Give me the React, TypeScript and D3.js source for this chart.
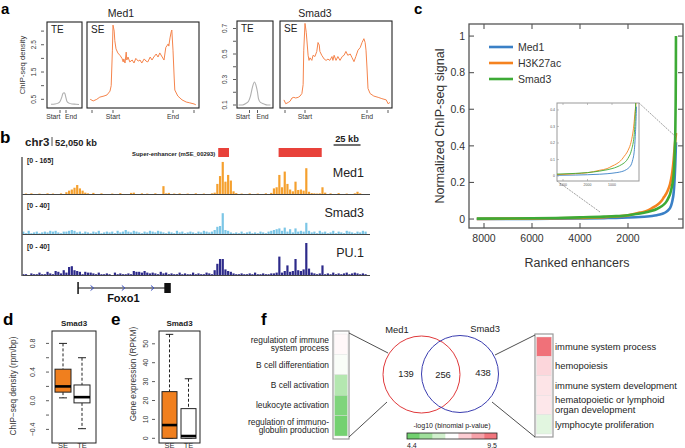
import React from "react";
import * as d3 from "d3";

const FONT = "'Liberation Sans', Arial, Helvetica, sans-serif";

// ---------------- Panel a : aggregate profiles (Start = 0, End = 100) ----------------
const med1SEProfile: [number, number][] = [
  [-38, 0.5], [-33, 0.44], [-27, 0.5], [-22, 0.58], [-15, 0.62], [-10, 0.66], [-5, 0.8], [-3, 1.0], [-1, 2.3],
  [0, 3.22], [2, 3.0], [3, 2.65], [5, 2.35], [8, 2.2], [12, 2.1], [15, 2.0], [17, 1.87], [18, 1.98], [20, 1.83],
  [22, 2.23], [23, 1.94], [25, 2.05], [28, 1.87], [32, 1.94], [35, 1.83], [38, 2.0], [42, 1.9], [45, 1.94],
  [48, 1.83], [52, 1.98], [55, 1.9], [58, 1.87], [62, 2.05], [65, 1.94], [68, 2.05], [72, 2.16], [75, 2.05],
  [78, 2.2], [82, 2.05], [85, 1.94], [88, 2.4], [92, 2.53], [93, 2.45], [95, 2.75], [97, 2.97], [98, 3.04],
  [100, 2.3], [102, 1.28], [103, 0.84], [108, 0.62], [115, 0.48], [122, 0.4], [128, 0.37], [135, 0.33], [138, 0.3],
];
const med1TEProfile: [number, number][] = [
  [-150, 0.32], [-83, 0.33], [-33, 0.36], [0, 0.42], [33, 0.6], [50, 0.72], [67, 0.74], [83, 0.7], [100, 0.55],
  [117, 0.42], [150, 0.36], [200, 0.33], [267, 0.32], [317, 0.31],
];
const smad3SEProfile: [number, number][] = [
  [-34, 0.14], [-31, 0.11], [-27, 0.12], [-24, 0.13], [-21, 0.155], [-18, 0.16], [-15, 0.155], [-11, 0.16],
  [-8, 0.17], [-5, 0.19], [-3, 0.26], [-2, 0.53], [0, 0.74], [2, 0.67], [3, 0.61], [5, 0.49], [6.5, 0.45],
  [8, 0.47], [11, 0.45], [13, 0.49], [16, 0.48], [19, 0.52], [21, 0.59], [23, 0.57], [24, 0.52], [27, 0.49],
  [31, 0.46], [34, 0.45], [37, 0.46], [40, 0.45], [43.5, 0.48], [45, 0.45], [47, 0.49], [50, 0.45], [53, 0.48],
  [56.5, 0.45], [60, 0.48], [63, 0.49], [66, 0.52], [69, 0.49], [73, 0.5], [76, 0.47], [79, 0.44], [82, 0.48],
  [85.5, 0.53], [89, 0.55], [92, 0.59], [95, 0.62], [97, 0.59], [98.4, 0.53], [100, 0.39], [101.6, 0.23],
  [105, 0.19], [111, 0.17], [118, 0.16], [124, 0.15], [131, 0.14], [134, 0.11], [137, 0.12],
];
const smad3TEProfile: [number, number][] = [
  [-137, 0.1], [-87, 0.1], [-50, 0.11], [-12, 0.13], [12, 0.17], [37, 0.24], [62, 0.28], [87, 0.24], [100, 0.2],
  [112, 0.15], [137, 0.12], [175, 0.11], [225, 0.1], [262, 0.1],
];
const med1DensityTicks = [0.5, 1, 1.5, 2, 2.5, 3];
const med1DensityLabels = [0.5, 1.5, 2.5];
const smad3DensityTicks = [0.1, 0.2, 0.3, 0.4, 0.5, 0.6, 0.7];
const smad3DensityLabels = [0.1, 0.3, 0.5, 0.7];

// ---------------- Panel b : genome browser tracks (2.5 kb bins) ----------------
const BIN_KB = 2.5;
const med1Track = [
  0, 2, 0, 3, 0, 0, 2, 0, 0, 3, 0, 2, 0, 0, 3, 0,
  8, 15, 20, 28, 40, 25, 15, 6,
  3, 0, 5, 0, 0, 3, 0, 0,
  0, 2, 0, 0, 4, 0, 0, 0, 5, 6, 0, 0, 3, 0, 2, 0,
  0, 3, 0, 0, 35, 3, 5, 0,
  2, 0, 3, 0, 0, 2, 0, 0, 3, 0, 0, 2, 0, 0, 3, 6,
  45, 80, 143, 55, 85, 60, 12, 4,
  0, 2, 0, 0, 3, 0, 0, 2, 0, 0, 3, 0, 5,
  25, 30, 85, 30, 100, 45, 20, 12,
  55, 18, 20, 15, 115, 10,
  4, 3, 2, 3, 30,
  6, 0, 3, 0, 0, 4, 0, 0, 2, 0, 0, 3, 10, 3, 0, 0,
];
const smad3Track = [
  3, 1, 4, 1, 2, 3, 1, 2, 3, 2, 4, 3, 4, 2, 1, 3,
  3, 4, 5, 4, 2, 3, 1, 3, 2, 1, 3, 2, 4, 1, 2, 3,
  2, 3, 1, 4, 2, 3, 5, 3, 2, 4, 3, 2, 1, 3, 2, 4,
  3, 2, 4, 3, 2, 1, 3, 2, 1, 4, 2, 3, 1, 2, 3, 2,
  1, 3, 2, 4, 3, 2, 3, 5, 9, 10, 26, 5, 4, 2, 1, 2,
  1, 3, 1, 2, 3, 1, 2, 1, 3, 2, 1, 3, 4, 5, 6, 7,
  4, 8, 3, 6, 2, 7, 3, 4, 3, 14, 4, 2, 3, 1, 4, 2,
  3, 1, 2, 4, 1, 3, 2, 1, 4, 3, 2, 1, 3, 2, 4, 3,
];
const pu1Track = [
  1, 1, 0, 2, 1, 1, 3, 1, 1, 4, 2, 1, 5, 4, 2, 6,
  3, 10, 11, 6, 5, 4, 1, 4, 3, 3, 2, 1, 3, 1, 1, 2,
  1, 0, 3, 1, 2, 1, 1, 2, 1, 5, 4, 4, 3, 5, 3, 2,
  3, 2, 1, 4, 2, 3, 1, 2, 1, 1, 3, 1, 2, 1, 1, 3,
  1, 2, 1, 1, 3, 2, 1, 6, 14, 20, 20, 7, 5, 4, 2, 1,
  1, 2, 1, 1, 2, 1, 3, 1, 1, 2, 1, 1, 2, 2, 3, 23,
  3, 5, 12, 4, 5, 20, 6, 5, 7, 40, 8, 3, 2, 1, 2, 12,
  1, 2, 1, 3, 1, 2, 1, 2, 3, 1, 2, 3, 2, 1, 2, 1,
];
const trackNames = ["Med1", "Smad3", "PU.1"];
const trackRanges = ["[0 - 165]", "[0 - 40]", "[0 - 40]"];
const trackMax = [165, 40, 40];
const trackColors = ["#F5A02E", "#7CC6E6", "#2D2A8A"];
const superEnhancersKb: [number, number][] = [[182, 192], [238, 278]];
const foxo1Kb: [number, number] = [52, 136];
const foxo1ExonKb: [number, number] = [132, 138];
const foxo1ArrowsKb = [65, 94, 121];
const scaleBarKb: [number, number] = [289, 314];

// ---------------- Panel c : ranked enhancer curves ----------------
const ranks = [8300, 7000, 6000, 5000, 4000, 3000, 2500, 2000, 1500, 1200, 1000, 800, 600, 500, 400, 300, 250, 200, 150, 100, 70, 50, 30, 15, 5, 1];
const med1Curve = [0.0, 0.001, 0.001, 0.002, 0.003, 0.005, 0.006, 0.008, 0.011, 0.014, 0.017, 0.021, 0.027, 0.032, 0.04, 0.052, 0.06, 0.075, 0.1, 0.14, 0.19, 0.24, 0.3, 0.36, 0.4, 0.42];
const h3k27acCurve = [0.001, 0.002, 0.003, 0.004, 0.006, 0.01, 0.014, 0.02, 0.035, 0.045, 0.06, 0.075, 0.1, 0.12, 0.14, 0.17, 0.19, 0.22, 0.26, 0.32, 0.37, 0.4, 0.43, 0.45, 0.46, 0.47];
const smad3Curve = [0.002, 0.003, 0.004, 0.006, 0.009, 0.013, 0.016, 0.021, 0.03, 0.038, 0.045, 0.055, 0.07, 0.08, 0.095, 0.12, 0.135, 0.16, 0.19, 0.24, 0.3, 0.37, 0.47, 0.62, 0.82, 1.0];
const curveNames = ["Med1", "H3K27ac", "Smad3"];
const curveColors = ["#3A80C6", "#F5821F", "#3DAA36"];
const rankTicks = [8000, 6000, 4000, 2000];
const signalTicks = [0, 0.2, 0.4, 0.6, 0.8, 1];
const insetRankTicks = [3000, 2000, 1000];
const insetSignalTicks = [0, 0.1, 0.2, 0.3, 0.4];

// ---------------- Panels d, e : boxplots ----------------
const boxGroups = ["SE", "TE"];
const densityStats = [
  { lo: 0.04, q1: 0.12, med: 0.2, q3: 0.44, hi: 0.8 },
  { lo: -0.39, q1: -0.03, med: 0.05, q3: 0.22, hi: 0.6 },
];
const densityTicks = [-0.4, -0.2, 0, 0.2, 0.4, 0.6, 0.8];
const densityLabels = [-0.4, 0, 0.4, 0.8];
const expressionStats = [
  { lo: 0, q1: 0, med: 7, q3: 24.7, hi: 55 },
  { lo: 0, q1: 0, med: 1.2, q3: 15.7, hi: 31.5 },
];
const expressionTicks = [0, 10, 20, 30, 40, 50];

// ---------------- Panel f : GO terms and Venn ----------------
const med1Terms = [
  ["regulation of immune", "system process"],
  ["B cell differentiation"],
  ["B cell activation"],
  ["leukocyte activation"],
  ["regulation of immuno-", "globulin production"],
];
const med1TermScores = [7.05, 6.85, 5.8, 5.0, 4.8];
const smad3Terms = [
  ["immune system process"],
  ["hemopoiesis"],
  ["immune system development"],
  ["hematopoietic or lymphoid", "organ development"],
  ["lymphocyte proliferation"],
];
const smad3TermScores = [9.2, 7.55, 7.35, 7.3, 6.5];
const vennCounts = [139, 256, 438];
const vennNames = ["Med1", "Smad3"];
const scoreRange: [number, number] = [4.4, 9.5];
const scoreColorStops = ["#5CC95A", "#8ED98A", "#C9EEC5", "#FFFFFF", "#FBC5CC", "#F4939B", "#EE5E67"];

// =====================================================================

type Pt = [number, number];

function ProfilePanel(p: {
  title: string; titleX: number;
  teBox: [number, number]; seBox: [number, number]; boxY: [number, number];
  teMarks: [number, number]; seMarks: [number, number]; seOuter: [number, number];
  teData: Pt[]; seData: Pt[];
  yDomain: [number, number]; yRange: [number, number];
  ticks: number[]; labeled: number[];
  tickX: number; labelX: number; yLabel?: string;
}) {
  const y = d3.scaleLinear().domain(p.yDomain).range(p.yRange);
  const xTE = d3.scaleLinear().domain([0, 100]).range(p.teMarks);
  const xSE = d3.scaleLinear().domain([0, 100]).range(p.seMarks);
  const lineTE = d3.line<Pt>().x(d => xTE(d[0])).y(d => y(d[1])).curve(d3.curveMonotoneX);
  const lineSE = d3.line<Pt>().x(d => xSE(d[0])).y(d => y(d[1]));
  const [y0, y1] = p.boxY;
  const tickY = y1 + 2;
  return (
    <g>
      <text x={p.titleX} y={17} fontSize={10.5} textAnchor="middle" fill="#222">{p.title}</text>
      <rect x={p.teBox[0]} y={y0} width={p.teBox[1] - p.teBox[0]} height={y1 - y0} fill="none" stroke="#222" strokeWidth={1.1} />
      <rect x={p.seBox[0]} y={y0} width={p.seBox[1] - p.seBox[0]} height={y1 - y0} fill="none" stroke="#222" strokeWidth={1.1} />
      <text x={p.teBox[0] + 4} y={y0 + 11} fontSize={10} fill="#222">TE</text>
      <text x={p.seBox[0] + 4} y={y0 + 11} fontSize={10} fill="#222">SE</text>
      <path d={lineTE(p.teData) || ""} fill="none" stroke="#AFAFAF" strokeWidth={1.1} />
      <path d={lineSE(p.seData) || ""} fill="none" stroke="#F5844C" strokeWidth={1} />
      {p.ticks.map(t => (
        <line key={t} x1={p.tickX - 3} x2={p.tickX} y1={y(t)} y2={y(t)} stroke="#333" strokeWidth={0.8} />
      ))}
      {p.labeled.map(t => (
        <text key={t} x={p.labelX} y={y(t)} fontSize={6.5} fill="#333" textAnchor="middle"
          transform={`rotate(-90 ${p.labelX} ${y(t)})`}>{t}</text>
      ))}
      {p.yLabel && (
        <text x={25} y={65} fontSize={7.7} fill="#333" textAnchor="middle" transform="rotate(-90 25 65)">{p.yLabel}</text>
      )}
      {[...p.teMarks, ...p.seMarks, ...p.seOuter].map((t, i) => (
        <line key={i} x1={t} x2={t} y1={tickY} y2={tickY + 3} stroke="#333" strokeWidth={0.8} />
      ))}
      <text x={p.teMarks[0] + 0.5} y={119} fontSize={6.8} fill="#333" textAnchor="end">Start</text>
      <text x={p.teMarks[1] - 1} y={119} fontSize={6.8} fill="#333">End</text>
      <text x={p.seMarks[0]} y={119} fontSize={6.8} fill="#333" textAnchor="middle">Start</text>
      <text x={p.seMarks[1]} y={119} fontSize={6.8} fill="#333" textAnchor="middle">End</text>
    </g>
  );
}

function PanelA() {
  return (
    <g>
      <text x={1} y={14} fontSize={15} fontWeight="bold">a</text>
      <ProfilePanel title="Med1" titleX={121}
        teBox={[47, 82]} seBox={[87, 199]} boxY={[22, 108]}
        teMarks={[60, 66]} seMarks={[113, 173]} seOuter={[92, 194]}
        teData={med1TEProfile} seData={med1SEProfile}
        yDomain={[0.5, 3]} yRange={[99.3, 31.1]}
        ticks={med1DensityTicks} labeled={med1DensityLabels}
        tickX={44} labelX={36} yLabel="ChIP-seq density" />
      <ProfilePanel title="Smad3" titleX={315}
        teBox={[237, 273]} seBox={[280, 392]} boxY={[21, 108]}
        teMarks={[249.5, 257.5]} seMarks={[305, 367]} seOuter={[285, 388]}
        teData={smad3TEProfile} seData={smad3SEProfile}
        yDomain={[0.1, 0.7]} yRange={[105, 28.5]}
        ticks={smad3DensityTicks} labeled={smad3DensityLabels}
        tickX={236} labelX={227} />
    </g>
  );
}

function PanelB() {
  const nBins = med1Track.length;
  const x = d3.scaleLinear().domain([0, nBins * BIN_KB]).range([22, 367]);
  const bw = x(BIN_KB) - x(0);
  const tracks = [med1Track, smad3Track, pu1Track];
  const tops = [157, 202, 243];
  const bases = [194, 234, 275];
  const labelY = [177, 217, 257];
  return (
    <g>
      <text x={0} y={143} fontSize={17} fontWeight="bold">b</text>
      <text x={25} y={146} fontSize={11.5} fontWeight="bold" fill="#222">chr3</text>
      <line x1={52} x2={52} y1={137} y2={146} stroke="#222" strokeWidth={0.8} />
      <text x={55} y={146} fontSize={9.3} fontWeight="bold" fill="#222">52,050 kb</text>
      <text x={(x(scaleBarKb[0]) + x(scaleBarKb[1])) / 2} y={142} fontSize={9.3} fontWeight="bold" textAnchor="middle" fill="#222">25 kb</text>
      <line x1={x(scaleBarKb[0])} x2={x(scaleBarKb[1])} y1={145} y2={145} stroke="#222" strokeWidth={1.3} />
      <text x={x(superEnhancersKb[0][0]) - 3} y={156} fontSize={5.9} fontWeight="bold" textAnchor="end" fill="#222">Super-enhancer (mSE_00293)</text>
      {superEnhancersKb.map((s, i) => (
        <rect key={i} x={x(s[0])} y={148} width={x(s[1]) - x(s[0])} height={9} fill="#E8413A" />
      ))}
      {tracks.map((tr, k) => {
        const y = d3.scaleLinear().domain([0, trackMax[k]]).range([bases[k], tops[k]]);
        return (
          <g key={k}>
            {tr.map((v, i) => v > 0 ? (
              <rect key={i} x={x(i * BIN_KB) + 0.2} y={y(v)} width={bw - 0.5} height={bases[k] - y(v)} fill={trackColors[k]} />
            ) : null)}
            <line x1={22} x2={370} y1={bases[k] + 0.5} y2={bases[k] + 0.5} stroke="#444" strokeWidth={1} />
            <text x={27} y={tops[k] + 6} fontSize={7} fontWeight="bold" fill="#222">{trackRanges[k]}</text>
            <text x={364} y={labelY[k]} fontSize={12.5} textAnchor="end" fill="#222">{trackNames[k]}</text>
          </g>
        );
      })}
      <line x1={22} x2={22} y1={157} y2={276} stroke="#666" strokeWidth={1.6} />
      {/* gene model */}
      <line x1={x(foxo1Kb[0])} x2={x(foxo1Kb[1])} y1={288} y2={288} stroke="#111" strokeWidth={1} />
      <line x1={x(foxo1Kb[0])} x2={x(foxo1Kb[0])} y1={282} y2={294} stroke="#111" strokeWidth={1.5} />
      <rect x={x(foxo1ExonKb[0])} y={283} width={x(foxo1ExonKb[1]) - x(foxo1ExonKb[0])} height={10} fill="#111" />
      {foxo1ArrowsKb.map((a, i) => (
        <path key={i} d={`M${x(a) - 1.5},${285.5} L${x(a) + 1.5},288 L${x(a) - 1.5},${290.5}`} fill="none" stroke="#3A4FC0" strokeWidth={1} />
      ))}
      <text x={(x(foxo1Kb[0]) + x(foxo1Kb[1])) / 2} y={302} fontSize={11} fontWeight="bold" textAnchor="middle" fill="#111">Foxo1</text>
    </g>
  );
}

function PanelC() {
  const x = d3.scaleLinear().domain([8625, -292]).range([469, 683]);
  const y = d3.scaleLinear().domain([-0.049, 1.066]).range([228, 24]);
  const xi = d3.scaleLinear().domain([3245, -102]).range([557, 639]);
  const yi = d3.scaleLinear().domain([-0.03, 0.442]).range([181, 103]);
  const data = [med1Curve, h3k27acCurve, smad3Curve];
  const mk = (sx: d3.ScaleLinear<number, number>, sy: d3.ScaleLinear<number, number>) =>
    d3.line<number>().x((_, i) => sx(ranks[i])).y(d => sy(d)).curve(d3.curveMonotoneX);
  const mainLine = mk(x, y);
  const insetLine = mk(xi, yi);
  const [bx0, bx1] = x.range();
  const [by0, by1] = [228, 24];
  return (
    <g>
      <text x={414} y={14} fontSize={15} fontWeight="bold">c</text>
      <defs>
        <clipPath id="mainClip"><rect x={bx0} y={by1} width={bx1 - bx0} height={by0 - by1} /></clipPath>
        <clipPath id="insetClip"><rect x={557} y={103} width={82} height={78} /></clipPath>
      </defs>
      <g clipPath="url(#mainClip)">
        {data.map((d, i) => (
          <path key={i} d={mainLine(d) || ""} fill="none" stroke={curveColors[i]} strokeWidth={2.6} />
        ))}
      </g>
      <rect x={bx0} y={by1} width={bx1 - bx0} height={by0 - by1} fill="none" stroke="#555" strokeWidth={1.3} />
      {signalTicks.map(t => (
        <g key={t}>
          <line x1={bx0} x2={bx0 + 5} y1={y(t)} y2={y(t)} stroke="#555" strokeWidth={1.1} />
          <line x1={bx1 - 5} x2={bx1} y1={y(t)} y2={y(t)} stroke="#555" strokeWidth={1.1} />
          <text x={465} y={y(t) + 3.8} fontSize={10.5} textAnchor="end" fill="#333">{t}</text>
        </g>
      ))}
      {rankTicks.map(t => (
        <g key={t}>
          <line x1={x(t)} x2={x(t)} y1={by0} y2={by0 - 5} stroke="#555" strokeWidth={1.1} />
          <line x1={x(t)} x2={x(t)} y1={by1} y2={by1 + 5} stroke="#555" strokeWidth={1.1} />
          <text x={x(t)} y={242} fontSize={10.5} textAnchor="middle" fill="#333">{t}</text>
        </g>
      ))}
      <text x={577} y={267} fontSize={12.5} textAnchor="middle" fill="#333">Ranked enhancers</text>
      <text x={444} y={126} fontSize={12.5} textAnchor="middle" fill="#333" transform="rotate(-90 444 126)">Normalized ChIP-seq signal</text>
      {curveNames.map((n, i) => (
        <g key={n}>
          <line x1={489} x2={513} y1={47 + i * 16} y2={47 + i * 16} stroke={curveColors[i]} strokeWidth={2.6} />
          <text x={518} y={47 + i * 16 + 3.8} fontSize={10.5} fill="#333">{n}</text>
        </g>
      ))}
      {/* connectors */}
      <line x1={557} y1={181} x2={600} y2={212} stroke="#777" strokeWidth={0.7} strokeDasharray="2,1" />
      <line x1={639} y1={103} x2={676} y2={137} stroke="#777" strokeWidth={0.7} strokeDasharray="2,1" />
      {/* inset */}
      <rect x={557} y={103} width={82} height={78} fill="#fff" stroke="#999" strokeWidth={1} />
      <g clipPath="url(#insetClip)">
        {data.map((d, i) => (
          <path key={i} d={insetLine(d) || ""} fill="none" stroke={curveColors[i]} strokeWidth={0.9} />
        ))}
      </g>
      {insetSignalTicks.map(t => (
        <g key={t}>
          <line x1={557} x2={559} y1={yi(t)} y2={yi(t)} stroke="#999" strokeWidth={0.6} />
          <text x={555} y={yi(t) + 1.2} fontSize={3.5} textAnchor="end" fill="#555">{t}</text>
        </g>
      ))}
      {insetRankTicks.map(t => (
        <g key={t}>
          <line x1={xi(t)} x2={xi(t)} y1={181} y2={179} stroke="#999" strokeWidth={0.6} />
          <line x1={xi(t)} x2={xi(t)} y1={103} y2={105} stroke="#999" strokeWidth={0.6} />
          <text x={xi(t)} y={186} fontSize={3.5} textAnchor="middle" fill="#555">{t}</text>
        </g>
      ))}
    </g>
  );
}

type Stat = { lo: number; q1: number; med: number; q3: number; hi: number };

function BoxPanel(p: {
  letter: string; letterX: number; box: [number, number]; centers: number[]; half: number;
  stats: Stat[]; domain: [number, number]; range: [number, number];
  ticks: number[]; labeled: number[]; tickX: number; labelX: number;
  yLabel: string; yLabelX: number; yLabelY: number;
}) {
  const y = d3.scaleLinear().domain(p.domain).range(p.range);
  const fills = ["#F07F1E", "#FFFFFF"];
  const fmt = (v: number) => (v < 0 ? "\u2212" : "") + (p.labeled.some(l => !Number.isInteger(l)) ? Math.abs(v).toFixed(1) : String(Math.abs(v)));
  return (
    <g>
      <text x={p.letterX} y={325} fontSize={17} fontWeight="bold">{p.letter}</text>
      <text x={(p.box[0] + p.box[1]) / 2} y={326} fontSize={8} fontWeight="bold" textAnchor="middle" fill="#222">Smad3</text>
      <rect x={p.box[0]} y={331} width={p.box[1] - p.box[0]} height={112} fill="none" stroke="#222" strokeWidth={1} />
      {p.ticks.map(t => (
        <line key={t} x1={p.tickX - 3} x2={p.tickX} y1={y(t)} y2={y(t)} stroke="#333" strokeWidth={0.8} />
      ))}
      {p.labeled.map(t => (
        <text key={t} x={p.labelX} y={y(t)} fontSize={7} textAnchor="middle" fill="#333"
          transform={`rotate(-90 ${p.labelX} ${y(t)})`}>{fmt(t)}</text>
      ))}
      <text x={p.yLabelX} y={p.yLabelY} fontSize={8.3} textAnchor="middle" fill="#333"
        transform={`rotate(-90 ${p.yLabelX} ${p.yLabelY})`}>{p.yLabel}</text>
      {p.stats.map((s, i) => {
        const c = p.centers[i];
        return (
          <g key={i}>
            <line x1={c} x2={c} y1={y(s.hi)} y2={y(s.q3)} stroke="#222" strokeWidth={1} strokeDasharray="3,2" />
            <line x1={c} x2={c} y1={y(s.q1)} y2={y(s.lo)} stroke="#222" strokeWidth={1} strokeDasharray="3,2" />
            <line x1={c - p.half / 2} x2={c + p.half / 2} y1={y(s.hi)} y2={y(s.hi)} stroke="#222" strokeWidth={1} />
            <line x1={c - p.half / 2} x2={c + p.half / 2} y1={y(s.lo)} y2={y(s.lo)} stroke="#222" strokeWidth={1} />
            <rect x={c - p.half} y={y(s.q3)} width={p.half * 2} height={Math.max(0.5, y(s.q1) - y(s.q3))} fill={fills[i]} stroke="#222" strokeWidth={1} />
            <line x1={c - p.half} x2={c + p.half} y1={y(s.med)} y2={y(s.med)} stroke="#000" strokeWidth={2.6} />
            <text x={c} y={447.5} fontSize={7.5} textAnchor="middle" fill="#333">{boxGroups[i]}</text>
          </g>
        );
      })}
    </g>
  );
}

function PanelF() {
  const stops = d3.range(scoreColorStops.length).map(i => scoreRange[0] + (i * (scoreRange[1] - scoreRange[0])) / (scoreColorStops.length - 1));
  const color = d3.scaleLinear<string>().domain(stops).range(scoreColorStops).interpolate(d3.interpolateRgb);
  const leftCells = d3.scaleBand<number>().domain(d3.range(med1Terms.length)).range([334, 436]);
  const rightCells = d3.scaleBand<number>().domain(d3.range(smad3Terms.length)).range([337, 434]);
  const legendX = d3.scaleBand<number>().domain(d3.range(7)).range([407, 497]);
  const legendVals = d3.range(7).map(i => scoreRange[0] + (i + 0.5) * (scoreRange[1] - scoreRange[0]) / 7);
  return (
    <g>
      <text x={261} y={325} fontSize={17} fontWeight="bold">f</text>
      {/* left heatmap */}
      <rect x={333} y={331} width={16} height={108} fill="none" stroke="#999" strokeWidth={1.2} />
      {med1TermScores.map((s, i) => (
        <rect key={i} x={334.5} y={leftCells(i)!} width={13} height={leftCells.bandwidth()} fill={color(s)} stroke="#ddd" strokeWidth={0.4} />
      ))}
      {med1Terms.map((lines, i) => {
        const cy = leftCells(i)! + leftCells.bandwidth() / 2;
        return lines.map((l, j) => (
          <text key={`${i}-${j}`} x={329} y={cy + 3 + (j - (lines.length - 1) / 2) * 8.5} fontSize={8.4} textAnchor="end" fill="#222">{l}</text>
        ));
      })}
      {/* right heatmap */}
      <rect x={535} y={334} width={18} height={103} fill="none" stroke="#999" strokeWidth={1.2} />
      {smad3TermScores.map((s, i) => (
        <rect key={i} x={536.5} y={rightCells(i)!} width={15} height={rightCells.bandwidth()} fill={color(s)} stroke="#ddd" strokeWidth={0.4} />
      ))}
      {smad3Terms.map((lines, i) => {
        const cy = rightCells(i)! + rightCells.bandwidth() / 2;
        return lines.map((l, j) => (
          <text key={`${i}-${j}`} x={555} y={cy + 3.3 + (j - (lines.length - 1) / 2) * 9.5} fontSize={9.4} fill="#222">{l}</text>
        ));
      })}
      {/* connectors */}
      <line x1={349} y1={333} x2={388} y2={353} stroke="#222" strokeWidth={0.8} />
      <line x1={349} y1={437} x2={387} y2={402} stroke="#222" strokeWidth={0.8} />
      <line x1={495} y1={355} x2={535} y2={335} stroke="#222" strokeWidth={0.8} />
      <line x1={492} y1={402} x2={535} y2={437} stroke="#222" strokeWidth={0.8} />
      {/* venn */}
      <circle cx={421.5} cy={374.5} r={38.5} fill="none" stroke="#E0393B" strokeWidth={1} />
      <circle cx={460} cy={374} r={38.5} fill="none" stroke="#3A3DB0" strokeWidth={1} />
      <text x={397} y={333} fontSize={9.4} textAnchor="middle" fill="#222">{vennNames[0]}</text>
      <text x={485} y={332} fontSize={9.4} textAnchor="middle" fill="#222">{vennNames[1]}</text>
      <text x={406} y={377} fontSize={9.4} textAnchor="middle" fill="#222">{vennCounts[0]}</text>
      <text x={443} y={378} fontSize={9.4} textAnchor="middle" fill="#222">{vennCounts[1]}</text>
      <text x={483} y={376} fontSize={9.4} textAnchor="middle" fill="#222">{vennCounts[2]}</text>
      {/* color legend */}
      <text x={452} y={428} fontSize={7} textAnchor="middle" fill="#222">-log10 (binomial p-value)</text>
      {legendVals.map((v, i) => (
        <rect key={i} x={legendX(i)!} y={433} width={legendX.bandwidth()} height={6} fill={color(v)} />
      ))}
      <rect x={407} y={433} width={90} height={6} fill="none" stroke="#222" strokeWidth={0.8} />
      <text x={407} y={447.5} fontSize={7} fill="#222">{scoreRange[0]}</text>
      <text x={497} y={447.5} fontSize={7} textAnchor="end" fill="#222">{scoreRange[1]}</text>
    </g>
  );
}

export default function App() {
  return (
    <svg width={685} height={448} viewBox="0 0 685 448"
      style={{ position: "absolute", left: 0, top: 0, background: "#fff" }} fontFamily={FONT}>
      <rect width={685} height={448} fill="#fff" />
      <PanelA />
      <PanelB />
      <PanelC />
      <BoxPanel letter="d" letterX={3} box={[52, 96]} centers={[63, 82]} half={8}
        stats={densityStats} domain={[-0.4, 0.8]} range={[429.4, 343.4]}
        ticks={densityTicks} labeled={densityLabels} tickX={49} labelX={35}
        yLabel={"ChIP\u2212seq density (rpm/bp)"} yLabelX={16} yLabelY={386} />
      <BoxPanel letter="e" letterX={111} box={[159, 200]} centers={[169.5, 188.5]} half={7.5}
        stats={expressionStats} domain={[0, 50]} range={[438.3, 343.8]}
        ticks={expressionTicks} labeled={expressionTicks} tickX={155} labelX={148}
        yLabel="Gene expression (RPKM)" yLabelX={136} yLabelY={374} />
      <PanelF />
    </svg>
  );
}
